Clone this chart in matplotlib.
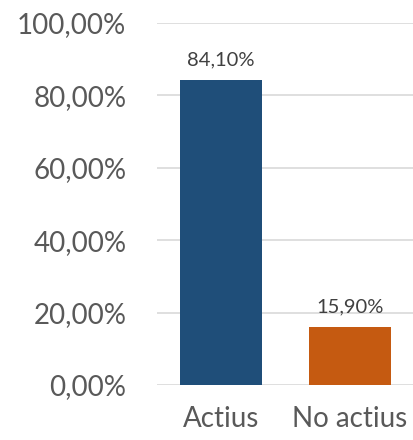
import matplotlib.pyplot as plt
from matplotlib.ticker import FuncFormatter

categories = ['Actius', 'No actius']
values = [84.10, 15.90]
colors = ['#1F4E79', '#C55A11']
yticks = [0, 20, 40, 60, 80, 100]

plt.rcParams['font.family'] = ['Lato', 'DejaVu Sans']
text_color = '#595959'

fig = plt.figure(figsize=(4.14, 4.4), dpi=100)
ax = fig.add_axes([0.379, 0.125, 0.621, 0.823])

x = range(len(categories))
bars = ax.bar(x, values, width=0.64, color=colors, zorder=3)

for bar, v in zip(bars, values):
    label = f'{v:.2f}%'.replace('.', ',')
    ax.annotate(label, (bar.get_x() + bar.get_width() / 2, v),
                xytext=(0, 9), textcoords='offset points',
                ha='center', va='bottom', fontsize=14.5, color='#404040')

ax.set_xlim(-0.5, 1.5)
ax.set_ylim(0, 100)
ax.set_yticks(yticks)
ax.yaxis.set_major_formatter(FuncFormatter(lambda v, p: f'{v:.2f}%'.replace('.', ',')))
ax.set_xticks(list(x))
ax.set_xticklabels(categories)

ax.grid(axis='y', color='#D9D9D9', linewidth=1.2, zorder=0)
for s in ax.spines.values():
    s.set_visible(False)
ax.tick_params(axis='both', length=0, labelsize=20, colors=text_color)
ax.tick_params(axis='y', pad=22)
ax.tick_params(axis='x', pad=15)

fig.savefig('out.png', dpi=100)
